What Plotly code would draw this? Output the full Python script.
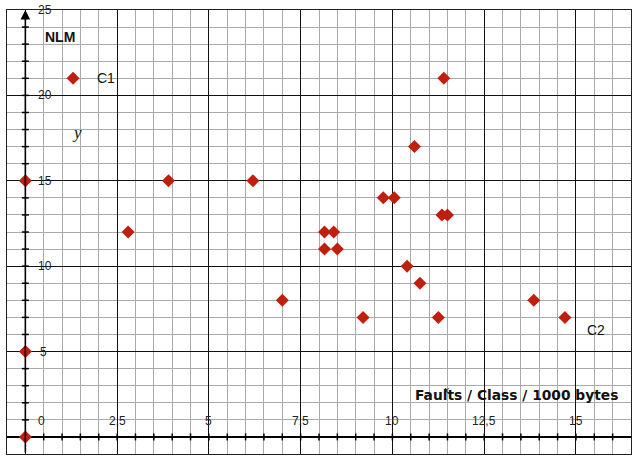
import numpy as np
import plotly.graph_objects as go

# ---- data ----
x_vals = [0, 0, 0, 1.3, 2.8, 3.9, 6.2, 7.0, 8.15, 8.4, 8.15, 8.5, 9.2,
          9.75, 10.05, 10.4, 10.75, 10.6, 11.25, 11.4, 11.35, 11.5, 13.85, 14.7]
y_vals = [0, 5, 15, 21, 12, 15, 15, 8, 12, 12, 11, 11, 7,
          14, 14, 10, 9, 17, 7, 21, 13, 13, 8, 7]

x_tick_vals = [0, 2.5, 5, 7.5, 10, 12.5, 15]
x_tick_labels = ["0", "2,5", "5", "7,5", "10", "12,5", "15"]
y_tick_vals = [5, 10, 15, 20, 25]
y_tick_labels = ["5", "10", "15", "20", "25"]

x_range = [-0.5, 16.5]
y_range = [-1, 25]

RED = "#C01F0E"
fig = go.Figure()

# small tick marks on the crossing axes
xt = np.arange(0.5, 16.01, 0.5)
fig.add_trace(go.Scatter(x=xt, y=[0] * len(xt), mode="markers", hoverinfo="skip",
                         marker=dict(symbol="line-ns", size=5, line=dict(width=1.5, color="black")),
                         showlegend=False))
yt = np.arange(1, 25, 1)
fig.add_trace(go.Scatter(x=[0] * len(yt), y=yt, mode="markers", hoverinfo="skip",
                         marker=dict(symbol="line-ew", size=5, line=dict(width=1.5, color="black")),
                         showlegend=False))

# data points
fig.add_trace(go.Scatter(x=x_vals, y=y_vals, mode="markers", cliponaxis=False,
                         marker=dict(symbol="diamond", size=10, color=RED),
                         showlegend=False))

annotations = []
# y axis with arrow
annotations.append(dict(x=0, y=25, ax=0, ay=-1, xref="x", yref="y", axref="x", ayref="y",
                        showarrow=True, arrowhead=2, arrowsize=1.2, arrowwidth=1.6,
                        arrowcolor="black", text=""))
tick_font = dict(family="Liberation Sans, Arial, sans-serif", size=12, color="#222")
for v, lab in zip(x_tick_vals, x_tick_labels):
    annotations.append(dict(x=v, y=0.95, xref="x", yref="y", text=lab, showarrow=False,
                            font=tick_font, xanchor="center", yanchor="middle",
                            xshift=16 if v == 0 else 0))
for v, lab in zip(y_tick_vals, y_tick_labels):
    annotations.append(dict(x=0.3, y=v, xref="x", yref="y", text=lab, showarrow=False,
                            font=tick_font, xanchor="left", yanchor="middle",
                            xshift=(2 if len(lab) == 1 else 0)))

annotations += [
    dict(x=0.95, y=23.4, xref="x", yref="y", text="<b>NLM</b>", showarrow=False,
         font=dict(family="Liberation Sans, Arial, sans-serif", size=14, color="#111")),
    dict(x=2.2, y=21.0, xref="x", yref="y", text="C1", showarrow=False,
         font=dict(family="Liberation Sans, Arial, sans-serif", size=14, color="#111")),
    dict(x=15.55, y=6.25, xref="x", yref="y", text="C2", showarrow=False,
         font=dict(family="Liberation Sans, Arial, sans-serif", size=14, color="#111")),
    dict(x=1.42, y=17.8, xref="x", yref="y", text="<i>y</i>", showarrow=False,
         font=dict(family="Liberation Serif, Times New Roman, serif", size=17, color="#111")),
    dict(x=13.38, y=2.45, xref="x", yref="y", text="<b>Faults / Class / 1000 bytes</b>",
         showarrow=False,
         font=dict(family="DejaVu Sans, Verdana, sans-serif", size=13.8, color="#111")),
    dict(x=11.47, y=2.8, xref="x", yref="y", text="<i>x</i>", showarrow=False,
         font=dict(family="Liberation Serif, Times New Roman, serif", size=11, color="#111")),
]

axis_common = dict(showticklabels=False, ticks="", showline=True, mirror=True,
                   linecolor="#222", linewidth=1, gridcolor="#111", gridwidth=1,
                   fixedrange=True)
fig.update_layout(
    width=632, height=458,
    margin=dict(l=7, r=1, t=10, b=4),
    paper_bgcolor="white", plot_bgcolor="white",
    xaxis=dict(range=x_range, tick0=0, dtick=2.5, zeroline=False,
               minor=dict(dtick=0.5, tick0=0, gridcolor="#aaaaaa", gridwidth=1, showgrid=True),
               **axis_common),
    yaxis=dict(range=y_range, tick0=0, dtick=5, zeroline=True, zerolinecolor="black",
               zerolinewidth=2,
               minor=dict(dtick=1, tick0=0, gridcolor="#aaaaaa", gridwidth=1, showgrid=True),
               **axis_common),
    annotations=annotations,
)

fig.write_html("out.html", config={"displayModeBar": False},
               post_script="document.body.style.margin='0';")
